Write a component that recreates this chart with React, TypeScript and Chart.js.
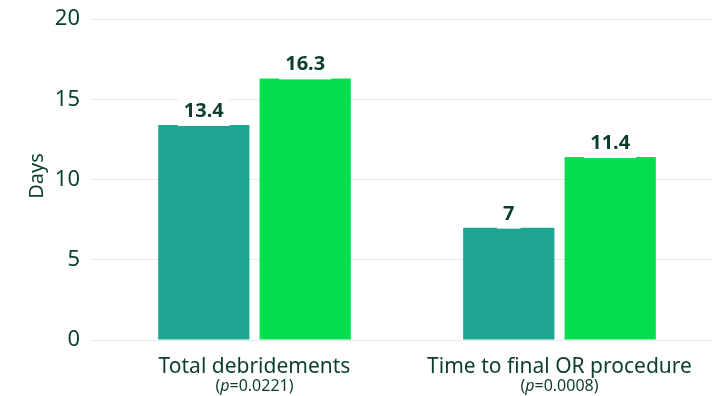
import React, { useEffect, useRef } from "react";
import { Chart, registerables } from "chart.js";

Chart.register(...registerables);

const categories = ["Total debridements", "Time to final OR procedure"];
const pValues = ["0.0221", "0.0008"];
const seriesA = [13.4, 7];
const seriesB = [16.3, 11.4];
const yTicks = [0, 5, 10, 15, 20];

const TEXT = "#0b3d30";
const FONT = "'Noto Sans', sans-serif";

const labelsPlugin = {
  id: "customText",
  afterDatasetsDraw(chart: any) {
    const ctx = chart.ctx;
    ctx.save();
    ctx.font = `bold 20px ${FONT}`;
    chart.data.datasets.forEach((ds: any, di: number) => {
      const meta = chart.getDatasetMeta(di);
      meta.data.forEach((bar: any, i: number) => {
        const txt = String(ds.data[i]);
        const w = ctx.measureText(txt).width;
        const bottom = bar.y - 8;
        const boxTop = bottom - 15 - 7;
        ctx.fillStyle = "#ffffff";
        ctx.fillRect(bar.x - w / 2 - 6, boxTop, w + 12, bar.y + 1 - boxTop);
        ctx.fillStyle = TEXT;
        ctx.textAlign = "center";
        ctx.textBaseline = "alphabetic";
        ctx.fillText(txt, bar.x, bottom);
      });
    });
    ctx.restore();
  },
  afterDraw(chart: any) {
    const ctx = chart.ctx;
    const xs = chart.scales.x;
    ctx.save();
    ctx.fillStyle = TEXT;
    categories.forEach((c, i) => {
      const x = xs.getPixelForValue(i);
      ctx.font = `21px ${FONT}`;
      ctx.textAlign = "center";
      ctx.textBaseline = "alphabetic";
      ctx.fillText(c, x, 373);
      const f = `16px ${FONT}`;
      const fi = `italic 16px ${FONT}`;
      const a = "(";
      const p = "p";
      const b = "=" + pValues[i] + ")";
      ctx.font = f;
      const wa = ctx.measureText(a).width;
      const wb = ctx.measureText(b).width;
      ctx.font = fi;
      const wp = ctx.measureText(p).width;
      let sx = x - (wa + wp + wb) / 2;
      ctx.textAlign = "left";
      ctx.font = f;
      ctx.fillText(a, sx, 391);
      sx += wa;
      ctx.font = fi;
      ctx.fillText(p, sx, 391);
      sx += wp;
      ctx.font = f;
      ctx.fillText(b, sx, 391);
    });
    ctx.translate(37, 176);
    ctx.rotate(-Math.PI / 2);
    ctx.font = `20px ${FONT}`;
    ctx.textAlign = "center";
    ctx.textBaseline = "middle";
    ctx.fillText("Days", 0, 0);
    ctx.restore();
  },
};

export default function App() {
  const ref = useRef<HTMLCanvasElement>(null);
  useEffect(() => {
    if (!ref.current) return;
    const chart = new Chart(ref.current, {
      type: "bar",
      data: {
        labels: categories,
        datasets: [
          {
            label: "A",
            data: seriesA,
            backgroundColor: "#1ea693",
            barPercentage: 0.9,
            categoryPercentage: 0.665,
          },
          {
            label: "B",
            data: seriesB,
            backgroundColor: "#05df4d",
            barPercentage: 0.9,
            categoryPercentage: 0.665,
          },
        ],
      },
      options: {
        responsive: false,
        animation: false,
        layout: { padding: { top: 19, right: 5, left: 0, bottom: 0 } },
        plugins: { legend: { display: false }, tooltip: { enabled: false } },
        scales: {
          x: {
            grid: { display: false },
            border: { display: false },
            ticks: { display: false },
            afterFit(scale: any) {
              scale.height = 56;
              scale.paddingLeft = 0;
              scale.paddingRight = 0;
            },
          },
          y: {
            min: 0,
            max: 20,
            afterBuildTicks(scale: any) {
              scale.ticks = yTicks.map((v) => ({ value: v }));
            },
            border: { display: false },
            grid: { color: "#e9e9e9", lineWidth: 1, tickLength: 12 },
            ticks: {
              color: TEXT,
              padding: 10,
              font: { family: FONT, size: 22 },
            },
            afterFit(scale: any) {
              scale.width = 102;
              scale.paddingTop = 0;
              scale.paddingBottom = 0;
            },
          },
        },
      },
      plugins: [labelsPlugin],
    });
    return () => chart.destroy();
  }, []);
  return (
    <div style={{ position: "fixed", left: 0, top: 0, width: 717, height: 396, background: "#fff" }}>
      <canvas ref={ref} width={717} height={396} style={{ display: "block" }} />
    </div>
  );
}
